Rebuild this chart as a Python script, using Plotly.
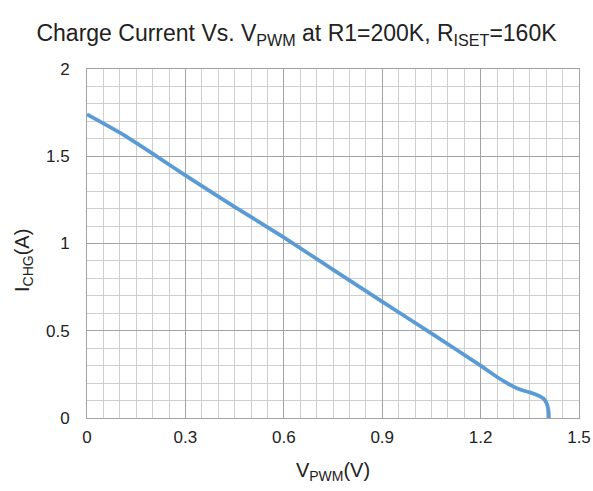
import plotly.graph_objects as go

v_pwm = [0, 0.1, 0.2, 0.3, 0.45, 0.6, 0.75, 0.9, 1.05, 1.2, 1.25, 1.3, 1.325, 1.35, 1.38, 1.395, 1.403, 1.407, 1.408]
i_chg = [1.74, 1.635, 1.515, 1.39, 1.21, 1.035, 0.85, 0.667, 0.485, 0.30, 0.235, 0.18, 0.16, 0.147, 0.125, 0.105, 0.075, 0.04, 0]

x_ticks = [0, 0.3, 0.6, 0.9, 1.2, 1.5]
y_ticks = [0, 0.5, 1, 1.5, 2]

font_name = "Liberation Sans, Arial"

fig = go.Figure(go.Scatter(
    x=v_pwm,
    y=i_chg,
    mode='lines',
    line=dict(color='#5B9BD5', width=3.8, shape='spline', smoothing=0.6),
    showlegend=False,
))

fig.update_layout(
    width=593,
    height=491,
    paper_bgcolor='white',
    plot_bgcolor='white',
    margin=dict(l=87, r=14, t=69, b=73),
    font=dict(family=font_name, size=17, color='#222222'),
    title=dict(
        text='Charge Current Vs. V<sub>PWM</sub> at R1=200K, R<sub>ISET</sub>=160K',
        x=0.5, xanchor='center', y=0.932, yanchor='middle',
        font=dict(size=23, color='#222222'),
    ),
    # y title as an annotation so it can sit a little below centre like the original
    annotations=[dict(
        text='I<sub>CHG</sub>(A)', textangle=-90,
        xref='paper', yref='paper', x=-0.128, y=0.45,
        xanchor='center', yanchor='middle', showarrow=False,
        font=dict(size=20, color='#222222'),
    )],
)

fig.update_xaxes(
    range=[0, 1.5],
    tickvals=x_ticks,
    ticktext=[f'{t:g}' for t in x_ticks],
    showgrid=True, gridcolor='#a3a3a3', gridwidth=1,
    minor=dict(dtick=0.05, showgrid=True, gridcolor='#cfcfcf', gridwidth=1),
    showline=True, linecolor='#a3a3a3', linewidth=1, mirror=True,
    zeroline=False, ticks='', ticklabelstandoff=4,
    automargin=False,
    title=dict(text='V<sub>PWM</sub>(V)', standoff=16, font=dict(size=20)),
)
fig.update_yaxes(
    range=[0, 2],
    tickvals=y_ticks,
    ticktext=[f'{t:g}' for t in y_ticks],
    showgrid=True, gridcolor='#a3a3a3', gridwidth=1,
    minor=dict(dtick=0.1, showgrid=True, gridcolor='#cfcfcf', gridwidth=1),
    showline=True, linecolor='#a3a3a3', linewidth=1, mirror=True,
    zeroline=False, ticks='', ticklabelstandoff=13,
    automargin=False,
)

fig.write_html("out.html", config={'displayModeBar': False},
               post_script="document.body.style.margin='0';")
